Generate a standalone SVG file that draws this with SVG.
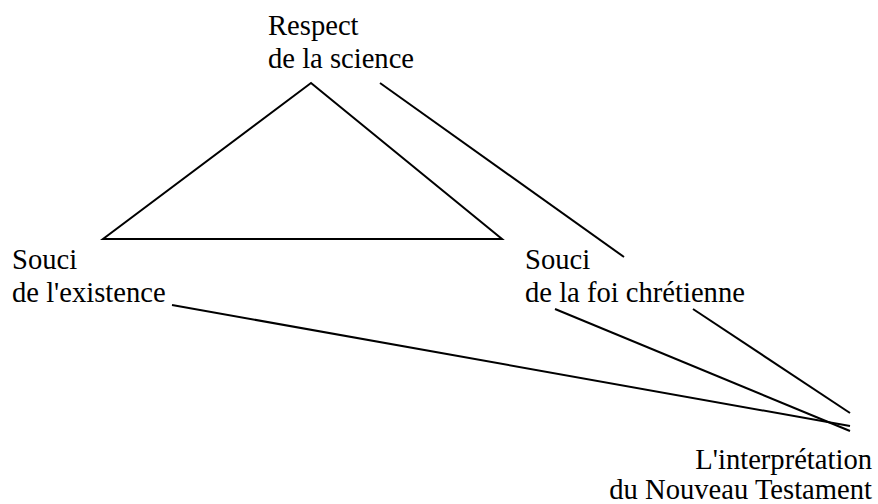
<svg xmlns="http://www.w3.org/2000/svg" width="878" height="504" viewBox="0 0 878 504">
<style>
text{font-family:"Liberation Serif","Times New Roman",Tinos,"Noto Serif","DejaVu Serif",FreeSerif,Times,serif;font-size:28.6px;fill:#000}
line,polygon{stroke:#000;stroke-width:2;fill:none}
</style>
<rect width="878" height="504" fill="#fff"/>
<g id="science"><text x="268" y="35">Respect</text><text x="268" y="68">de la science</text></g>
<g id="existence"><text x="12" y="269">Souci</text><text x="12" y="302">de l'existence</text></g>
<g id="foi"><text x="525" y="269">Souci</text><text x="525" y="302">de la foi chrétienne</text></g>
<g id="nt"><text x="872" y="469" text-anchor="end">L'interprétation</text><text x="872" y="499" text-anchor="end">du Nouveau Testament</text></g>
<g id="connectors">
<polygon points="311,83 103,239 502,239"/>
<line x1="380" y1="83" x2="624" y2="257"/>
<line x1="172" y1="305" x2="850" y2="426"/>
<line x1="555" y1="309" x2="850" y2="431"/>
<line x1="693" y1="309" x2="850" y2="413"/>
</g>
</svg>
